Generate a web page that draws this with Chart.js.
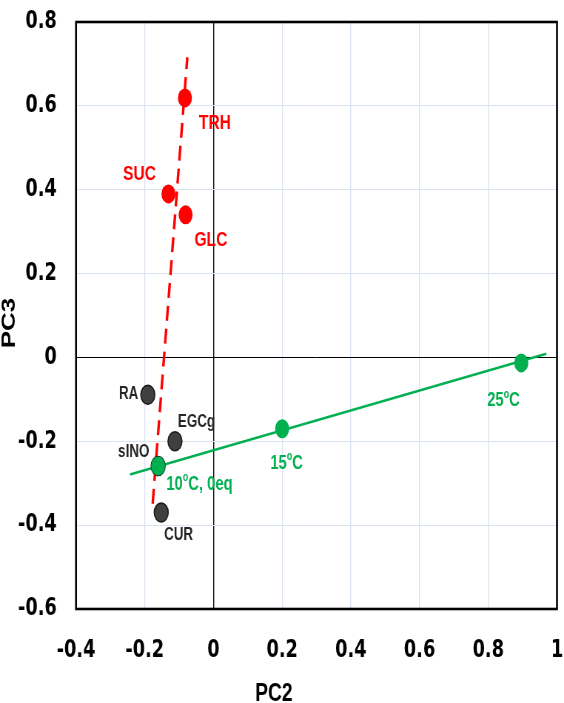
<!DOCTYPE html>
<html>
<head>
<meta charset="utf-8">
<script src="https://cdn.jsdelivr.net/npm/chart.js@4.4.1/dist/chart.umd.min.js"></script>
<style>
  html, body { margin: 0; padding: 0; background: #fff; overflow: hidden; }
  /* the source picture is squeezed sideways, so draw wide and squeeze */
  #wrap { width: 762px; height: 703px; transform: scaleX(0.7402); transform-origin: 0 0; }
</style>
</head>
<body>
<div id="wrap"><canvas id="pca" width="762" height="703"></canvas></div>
<script>
// sugars (red)
var sugarNames = ['TRH', 'SUC', 'GLC'];
var sugarPC2   = [-0.083, -0.131, -0.081];
var sugarPC3   = [0.619, 0.390, 0.340];

// additives (grey)
var additiveNames = ['RA', 'EGCg', 'sINO', 'CUR'];
var additivePC2   = [-0.191, -0.112, -0.161, -0.152];
var additivePC3   = [-0.089, -0.200, -0.259, -0.370];

// temperatures (green), ^o marks a superscript o
var tempNames = ['10^oC, 0eq', '15^oC', '25^oC'];
var tempPC2   = [-0.161, 0.200, 0.896];
var tempPC3   = [-0.259, -0.170, -0.013];

// trend line end points
var sugarTrendPC2 = [-0.177, -0.076];
var sugarTrendPC3 = [-0.349, 0.716];
var tempTrendPC2  = [-0.243, 0.969];
var tempTrendPC3  = [-0.279, 0.009];

var xTicks = [-0.4, -0.2, 0, 0.2, 0.4, 0.6, 0.8, 1];
var yTicks = [-0.6, -0.4, -0.2, 0, 0.2, 0.4, 0.6, 0.8];

var RED = '#ff0000', GREEN = '#00b050', DARK = '#262626', GRID = '#d9e2f0';
var FONT = '"Liberation Sans", Arial, sans-serif';
var TICKFONT = '"DejaVu Sans", sans-serif';

function pts(xs, ys) {
    return xs.map(function (x, i) { return { x: x, y: ys[i] }; });
}

// label placement per point: dx, dy from the point centre, align
var labelPlace = {
    TRH:  { dx: 19,  dy: 25, align: 'left' },
    SUC:  { dx: -17, dy: -20, align: 'right' },
    GLC:  { dx: 12,  dy: 25, align: 'left' },
    RA:   { dx: -13, dy: -1, align: 'right' },
    EGCg: { dx: 4,   dy: -19, align: 'left' },
    sINO: { dx: -12, dy: -14, align: 'right' },
    CUR:  { dx: 4,   dy: 22, align: 'left' },
    '10^oC, 0eq': { dx: 11, dy: 18, align: 'left' },
    '15^oC': { dx: -16, dy: 35, align: 'left' },
    '25^oC': { dx: -46, dy: 38, align: 'left' }
};

function splitSup(txt) {
    var parts = [], buf = '';
    for (var i = 0; i < txt.length; i++) {
        if (txt[i] === '^') {
            if (buf) parts.push({ t: buf, sup: false });
            buf = '';
            parts.push({ t: txt[i + 1], sup: true });
            i++;
        } else buf += txt[i];
    }
    if (buf) parts.push({ t: buf, sup: false });
    return parts;
}

function drawRich(ctx, txt, x, y, size, align) {
    var parts = splitSup(txt), w = 0;
    parts.forEach(function (p) {
        ctx.font = 'bold ' + (p.sup ? Math.round(size * 0.62) : size) + 'px ' + FONT;
        p.w = ctx.measureText(p.t).width;
        w += p.w;
    });
    var cx = align === 'right' ? x - w : x;
    ctx.textBaseline = 'middle';
    ctx.textAlign = 'left';
    parts.forEach(function (p) {
        ctx.font = 'bold ' + (p.sup ? Math.round(size * 0.62) : size) + 'px ' + FONT;
        ctx.fillText(p.t, cx, p.sup ? y - size * 0.33 : y);
        cx += p.w;
    });
}

var frameAndTitles = {
    id: 'frameAndTitles',
    beforeDatasetsDraw: function (chart) {
        var ctx = chart.ctx, a = chart.chartArea;
        ctx.save();
        ctx.strokeStyle = '#000';
        ctx.lineWidth = 2.6;
        ctx.strokeRect(a.left, a.top, a.right - a.left, a.bottom - a.top);
        ctx.restore();
    },
    afterDraw: function (chart) {
        var ctx = chart.ctx;
        ctx.save();
        ctx.fillStyle = '#000';
        ctx.font = 'bold 26px ' + FONT;
        ctx.textAlign = 'center';
        ctx.textBaseline = 'alphabetic';
        ctx.fillText('PC2', 370, 701);
        ctx.translate(20, 323);
        ctx.rotate(-Math.PI / 2);
        ctx.fillText('PC3', 0, 0);
        ctx.restore();
    }
};

var pointLabels = {
    id: 'pointLabels',
    afterDatasetsDraw: function (chart) {
        var ctx = chart.ctx;
        ctx.save();
        chart.data.datasets.forEach(function (ds, di) {
            if (!ds.names) return;
            var meta = chart.getDatasetMeta(di);
            meta.data.forEach(function (el, i) {
                var name = ds.names[i], p = labelPlace[name];
                ctx.fillStyle = ds.labelColor;
                drawRich(ctx, name, el.x + p.dx, el.y + p.dy, ds.labelSize, p.align);
            });
        });
        ctx.restore();
    }
};

function gridColor(c) { return c.tick && Math.abs(c.tick.value) < 1e-9 ? '#000' : GRID; }

function noPad(s) { s.paddingTop = 0; s.paddingBottom = 0; s.paddingLeft = 0; s.paddingRight = 0; }

new Chart(document.getElementById('pca'), {
    type: 'scatter',
    data: {
        datasets: [
            {
                data: pts(tempPC2, tempPC3), names: tempNames, labelColor: GREEN, labelSize: 20,
                backgroundColor: GREEN, borderWidth: 0, pointRadius: 9.5, order: 1
            },
            {
                data: pts(sugarPC2, sugarPC3), names: sugarNames, labelColor: RED, labelSize: 21,
                backgroundColor: RED, borderWidth: 0, pointRadius: 9.5, order: 2
            },
            {
                data: pts(additivePC2, additivePC3), names: additiveNames, labelColor: DARK, labelSize: 18,
                backgroundColor: '#404040', borderColor: '#1a1a1a', borderWidth: 1.5, pointRadius: 9.5, order: 3
            },
            {
                data: pts(tempTrendPC2, tempTrendPC3), showLine: true, pointRadius: 0,
                borderColor: GREEN, borderWidth: 2.6, order: 4
            },
            {
                data: pts(sugarTrendPC2, sugarTrendPC3), showLine: true, pointRadius: 0,
                borderColor: RED, borderWidth: 3.4, borderDash: [15, 8], order: 5
            }
        ]
    },
    options: {
        responsive: false,
        animation: false,
        events: [],
        layout: { autoPadding: false, padding: { top: 22, right: 9.5, left: 0, bottom: 0 } },
        plugins: { legend: { display: false }, tooltip: { enabled: false } },
        scales: {
            x: {
                type: 'linear', min: xTicks[0], max: xTicks[xTicks.length - 1],
                afterBuildTicks: function (s) { s.ticks = xTicks.map(function (v) { return { value: v }; }); },
                afterFit: function (s) { s.height = 94; noPad(s); },
                ticks: {
                    padding: 27, color: '#000', font: { family: TICKFONT, size: 24, weight: 'bold' },
                    callback: function (v) { return String(Number(v.toFixed(1))); }
                },
                grid: {
                    drawTicks: false, color: gridColor,
                    lineWidth: function (c) { return c.tick && Math.abs(c.tick.value) < 1e-9 ? 1.4 : 1.3; }
                },
                border: { display: false }
            },
            y: {
                type: 'linear', min: yTicks[0], max: yTicks[yTicks.length - 1],
                afterBuildTicks: function (s) { s.ticks = yTicks.map(function (v) { return { value: v }; }); },
                afterFit: function (s) { s.width = 102.7; noPad(s); },
                ticks: {
                    padding: 26, color: '#000', font: { family: TICKFONT, size: 24, weight: 'bold' },
                    callback: function (v) { return String(Number(v.toFixed(1))); }
                },
                grid: { drawTicks: false, color: gridColor, lineWidth: 1 },
                border: { display: false }
            }
        }
    },
    plugins: [frameAndTitles, pointLabels]
});
</script>
</body>
</html>
